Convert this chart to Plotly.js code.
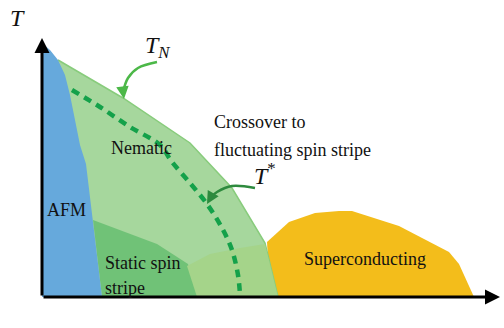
<!DOCTYPE html>
<html><head><meta charset="utf-8">
<script src="https://cdn.plot.ly/plotly-3.0.1.min.js"></script>
<style>html,body{margin:0;padding:0;background:#fff}#chart{width:504px;height:328px}</style>
</head><body><div id="chart"></div>
<script>
// Schematic phase diagram: x = doping (arb.), T = temperature (arb.)
var afmX = [0, 8, 16, 23, 28, 33, 38, 44, 51, 60, 0];
var afmT = [254, 247, 237, 222, 202, 177, 152, 133, 77, 0, 0];

var nemX = [16, 81, 148, 190, 223, 236, 18];
var nemT = [237, 199, 154, 109, 54, 0, 0];

var stripeX = [51, 115, 146, 156, 60];
var stripeT = [77, 53, 33, 0, 0];

var fluctX = [145, 168, 198, 223, 236, 155];
var fluctT = [31, 43, 49, 53, 0, 0];

var scX = [228, 225, 247, 273, 297, 310, 357, 407, 417, 432];
var scT = [0, 55, 75, 84, 86, 86, 71, 45, 33, 0];

var tStarX = [30, 58, 88, 118, 130, 148, 165, 180, 190, 196, 198];
var tStarT = [207, 190, 170, 152, 135, 114, 93, 69, 47, 22, 2];

var tnArrowX = [115, 96, 86, 81];
var tnArrowT = [235, 229, 219, 205];
var tsArrowX = [213, 190, 175, 168];
var tsArrowT = [109, 111, 105, 99];

function poly(x, y, fill, line) {
  return {x: x, y: y, type: 'scatter', mode: 'lines', fill: 'toself', fillcolor: fill,
    line: {color: line || fill, width: line ? 1.5 : 0}, hoverinfo: 'skip', showlegend: false};
}
function curve(x, y, color, width, dash) {
  return {x: x, y: y, type: 'scatter', mode: 'lines',
    line: {color: color, width: width, shape: 'spline', dash: dash || 'solid'},
    hoverinfo: 'skip', showlegend: false};
}

var traces = [
  poly(scX, scT, '#f3bd1b'),
  poly(nemX, nemT, '#a6d79d', '#88cc7c'),
  poly(stripeX, stripeT, '#70c277'),
  poly(fluctX, fluctT, '#a5d48a'),
  poly(afmX, afmT, '#66a9dc'),
  curve(tStarX, tStarT, '#14a14a', 4.5, '8px,6px'),
  curve(tnArrowX, tnArrowT, '#4cb848', 2.5),
  curve(tsArrowX, tsArrowT, '#2e8a3e', 2.5)
];

function txt(x, y, text, size, anchor) {
  return {x: x, y: y, xref: 'x', yref: 'y', text: text, showarrow: false,
    font: {family: 'Liberation Serif', size: size}, xanchor: anchor || 'center'};
}
function arrowHead(x, y, ax, ay, color, w) {
  return {x: x, y: y, ax: ax, ay: ay, xref: 'x', yref: 'y', axref: 'x', ayref: 'y',
    showarrow: true, arrowhead: 2, arrowsize: 1, arrowwidth: w, arrowcolor: color, text: ''};
}

var annotations = [
  arrowHead(0, 259, 0, 0, '#000', 3),
  arrowHead(458, 0, 0, 0, '#000', 3),
  arrowHead(82, 198, 81, 206, '#4cb848', 2.5),
  arrowHead(165, 93, 169, 100, '#2e8a3e', 2.5),
  txt(-25, 279, '<i>T</i>', 24),
  txt(101, 250, '<i>T</i><sub><i>N</i></sub>', 24, 'left'),
  txt(99, 149, 'Nematic', 18),
  txt(170, 175, 'Crossover to', 18, 'left'),
  txt(170, 147, 'fluctuating spin stripe', 18, 'left'),
  txt(210, 123, '<i>T</i><sup>*</sup>', 24, 'left'),
  txt(24, 87, 'AFM', 18),
  txt(61, 34, 'Static spin', 18, 'left'),
  txt(61, 9, 'stripe', 18, 'left'),
  txt(323, 38, 'Superconducting', 18),
  txt(459, -28, '<i>x</i>', 22, 'left')
];

var layout = {
  width: 504, height: 328,
  margin: {l: 0, r: 0, t: 0, b: 0},
  font: {family: 'Liberation Serif', color: '#111'},
  xaxis: {range: [-42, 462], visible: false, fixedrange: true},
  yaxis: {range: [-31, 297], visible: false, fixedrange: true},
  annotations: annotations,
  showlegend: false
};

Plotly.newPlot('chart', traces, layout, {displayModeBar: false, staticPlot: true});
</script></body></html>
